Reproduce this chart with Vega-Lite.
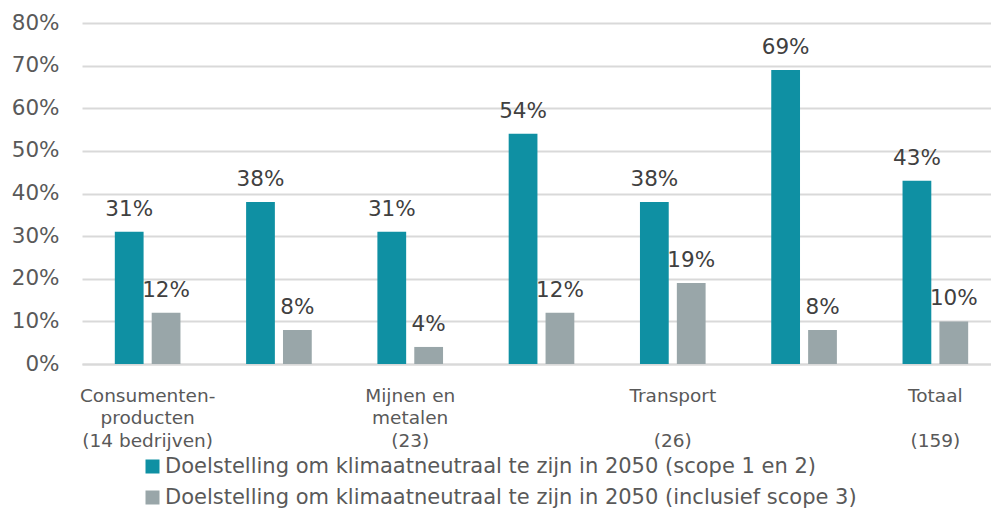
{
  "$schema": "https://vega.github.io/schema/vega-lite/v6.json",
  "width": 909,
  "height": 341,
  "autosize": {"type": "none"},
  "padding": {"left": 82, "top": 23, "right": 0, "bottom": 145},
  "background": "white",
  "config": {
    "font": "DejaVu Sans",
    "view": {"stroke": null}
  },
  "data": {
    "values": [
      {"sector": "Consumentenproducten (14 bedrijven)", "reeks": "Doelstelling om klimaatneutraal te zijn in 2050 (scope 1 en 2)", "waarde": 0.31},
      {"sector": "Consumentenproducten (14 bedrijven)", "reeks": "Doelstelling om klimaatneutraal te zijn in 2050 (inclusief scope 3)", "waarde": 0.12},
      {"sector": "Sector 2", "reeks": "Doelstelling om klimaatneutraal te zijn in 2050 (scope 1 en 2)", "waarde": 0.38},
      {"sector": "Sector 2", "reeks": "Doelstelling om klimaatneutraal te zijn in 2050 (inclusief scope 3)", "waarde": 0.08},
      {"sector": "Mijnen en metalen (23)", "reeks": "Doelstelling om klimaatneutraal te zijn in 2050 (scope 1 en 2)", "waarde": 0.31},
      {"sector": "Mijnen en metalen (23)", "reeks": "Doelstelling om klimaatneutraal te zijn in 2050 (inclusief scope 3)", "waarde": 0.04},
      {"sector": "Sector 4", "reeks": "Doelstelling om klimaatneutraal te zijn in 2050 (scope 1 en 2)", "waarde": 0.54},
      {"sector": "Sector 4", "reeks": "Doelstelling om klimaatneutraal te zijn in 2050 (inclusief scope 3)", "waarde": 0.12},
      {"sector": "Transport (26)", "reeks": "Doelstelling om klimaatneutraal te zijn in 2050 (scope 1 en 2)", "waarde": 0.38},
      {"sector": "Transport (26)", "reeks": "Doelstelling om klimaatneutraal te zijn in 2050 (inclusief scope 3)", "waarde": 0.19},
      {"sector": "Sector 6", "reeks": "Doelstelling om klimaatneutraal te zijn in 2050 (scope 1 en 2)", "waarde": 0.69},
      {"sector": "Sector 6", "reeks": "Doelstelling om klimaatneutraal te zijn in 2050 (inclusief scope 3)", "waarde": 0.08},
      {"sector": "Totaal (159)", "reeks": "Doelstelling om klimaatneutraal te zijn in 2050 (scope 1 en 2)", "waarde": 0.43},
      {"sector": "Totaal (159)", "reeks": "Doelstelling om klimaatneutraal te zijn in 2050 (inclusief scope 3)", "waarde": 0.10}
    ]
  },
  "encoding": {
    "x": {
      "field": "sector",
      "type": "nominal",
      "sort": null,
      "scale": {"paddingInner": 0.5, "paddingOuter": 0.25, "range": [0, 919]},
      "axis": {
        "title": null,
        "labelAngle": 0,
        "ticks": false,
        "domain": true,
        "domainColor": "#d9d9d9",
        "domainWidth": 2,
        "labelFontSize": 18.5,
        "labelColor": "#595959",
        "labelLineHeight": 22.5,
        "labelPadding": 22,
        "labelBaseline": "top",
        "labelExpr": "datum.value == 'Consumentenproducten (14 bedrijven)' ? ['Consumenten-', 'producten', '(14 bedrijven)'] : datum.value == 'Mijnen en metalen (23)' ? ['Mijnen en', 'metalen', '(23)'] : datum.value == 'Transport (26)' ? ['Transport', '\u2800', '(26)'] : datum.value == 'Totaal (159)' ? ['Totaal', '\u2800', '(159)'] : ''"
      }
    },
    "xOffset": {
      "field": "reeks",
      "type": "nominal",
      "sort": null,
      "scale": {"paddingInner": 0.22, "paddingOuter": 0}
    },
    "y": {
      "field": "waarde",
      "type": "quantitative",
      "scale": {"domain": [0, 0.8]},
      "axis": {
        "title": null,
        "format": ".0%",
        "values": [0, 0.1, 0.2, 0.3, 0.4, 0.5, 0.6, 0.7, 0.8],
        "domain": false,
        "ticks": false,
        "grid": true,
        "gridColor": "#d9d9d9",
        "gridWidth": 2,
        "labelFontSize": 21.5,
        "labelColor": "#595959",
        "labelPadding": 23
      }
    }
  },
  "layer": [
    {
      "mark": {"type": "bar"},
      "encoding": {
        "color": {
          "field": "reeks",
          "type": "nominal",
          "sort": null,
          "scale": {"range": ["#0f90a3", "#99a6a9"]},
          "legend": {
            "title": null,
            "orient": "none",
            "legendX": 60,
            "legendY": 433,
            "direction": "vertical",
            "symbolType": "square",
            "symbolSize": 196,
            "symbolStrokeWidth": 0,
            "labelFontSize": 21,
            "labelColor": "#595959",
            "labelOffset": 2,
            "rowPadding": 9,
            "labelLimit": 900,
            "padding": 0
          }
        }
      }
    },
    {
      "mark": {"type": "text", "baseline": "alphabetic", "dy": -16, "fontSize": 21.5, "color": "#404040"},
      "encoding": {
        "text": {"field": "waarde", "type": "quantitative", "format": ".0%"}
      }
    }
  ]
}
